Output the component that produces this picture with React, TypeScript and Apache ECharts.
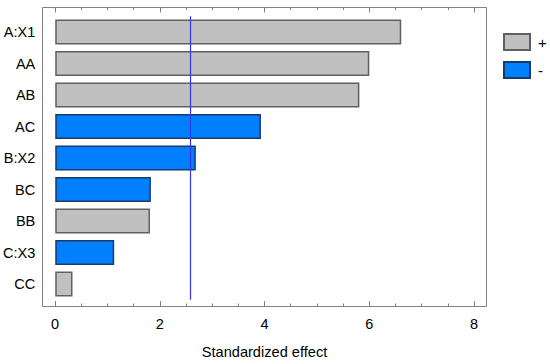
import React, { useEffect, useRef } from "react";
import * as echarts from "echarts";

const categories = ["A:X1", "AA", "AB", "AC", "B:X2", "BC", "BB", "C:X3", "CC"];
const effects = [6.61, 6.0, 5.81, 3.93, 2.686, 1.827, 1.81, 1.126, 0.33];
const signs = ["+", "+", "+", "-", "-", "-", "+", "-", "+"];
const criticalValue = 2.571;
const xTicks = [0, 2, 4, 6, 8];

export default function App() {
  const ref = useRef<HTMLDivElement>(null);
  useEffect(() => {
    document.body.style.margin = "0";
    if (!ref.current) return;
    const chart = echarts.init(ref.current, null, { renderer: "svg" });
    const pos = effects.map((v, i) => (signs[i] === "+" ? v : "-"));
    const neg = effects.map((v, i) => (signs[i] === "-" ? v : "-"));
    const font = "'Liberation Sans', Arial, sans-serif";
    const gridLeft = 55;
    const gridWidth = 419;
    chart.setOption({
      animation: false,
      graphic: [
        {
          type: "rect",
          shape: { x: 42.5, y: 7.5, width: 444, height: 299 },
          style: { fill: "none", stroke: "#808080", lineWidth: 1 },
          z: 10,
        },
      ],
      legend: {
        orient: "vertical",
        left: 503,
        top: 33,
        padding: 0,
        itemWidth: 26,
        itemHeight: 16,
        itemGap: 10,
        icon: "rect",
        textStyle: { fontFamily: font, fontSize: 15, color: "#000", padding: [0, 0, 0, 3] },
        data: ["+", "-"],
      },
      grid: [
        { left: gridLeft, width: gridWidth, top: 7.5, height: 299 },
        { left: gridLeft, width: gridWidth, top: 16.25, height: 283.5 },
      ],
      xAxis: [
        {
          gridIndex: 0,
          type: "value",
          position: "bottom",
          min: xTicks[0],
          max: xTicks[xTicks.length - 1],
          interval: 2,
          axisLine: { show: false },
          axisTick: { show: true, inside: true, length: 5, lineStyle: { color: "#808080" } },
          minorTick: { show: true, splitNumber: 4, length: 2.5, lineStyle: { color: "#808080" } },
          splitLine: { show: false },
          axisLabel: { fontFamily: font, fontSize: 14.5, color: "#000", margin: 10 },
          name: "Standardized effect",
          nameLocation: "middle",
          nameGap: 38,
          nameTextStyle: { fontFamily: font, fontSize: 14.6, color: "#000" },
        },
        {
          gridIndex: 0,
          type: "value",
          position: "top",
          min: xTicks[0],
          max: xTicks[xTicks.length - 1],
          interval: 2,
          axisLine: { show: false },
          axisTick: { show: true, inside: true, length: 5, lineStyle: { color: "#808080" } },
          minorTick: { show: true, splitNumber: 4, length: 2.5, lineStyle: { color: "#808080" } },
          splitLine: { show: false },
          axisLabel: { show: false },
        },
        {
          gridIndex: 1,
          type: "value",
          min: 0,
          max: 8,
          show: false,
        },
      ],
      yAxis: [
        { gridIndex: 0, type: "value", show: false },
        {
          gridIndex: 1,
          type: "category",
          inverse: true,
          data: categories,
          axisLine: { show: false },
          axisTick: { show: false },
          axisLabel: { fontFamily: font, fontSize: 14.5, color: "#000", margin: 20 },
        },
      ],
      series: [
        {
          name: "+",
          type: "bar",
          xAxisIndex: 2,
          yAxisIndex: 1,
          stack: "s",
          barWidth: 25,
          data: pos,
          itemStyle: { color: "#c0c0c0", borderColor: "#606060", borderWidth: 1.5 },
        },
        {
          name: "-",
          type: "bar",
          xAxisIndex: 2,
          yAxisIndex: 1,
          stack: "s",
          barWidth: 25,
          data: neg,
          itemStyle: { color: "#0080ff", borderColor: "#1a3a6a", borderWidth: 1.5 },
          markLine: {
            silent: true,
            symbol: "none",
            label: { show: false },
            lineStyle: { color: "#3535f0", width: 1.2, type: "solid", opacity: 1 },
            emphasis: { disabled: true },
            data: [{ xAxis: criticalValue }],
            z: 5,
          },
        },
      ],
    });
    return () => chart.dispose();
  }, []);
  return <div ref={ref} style={{ width: 550, height: 364 }} />;
}
